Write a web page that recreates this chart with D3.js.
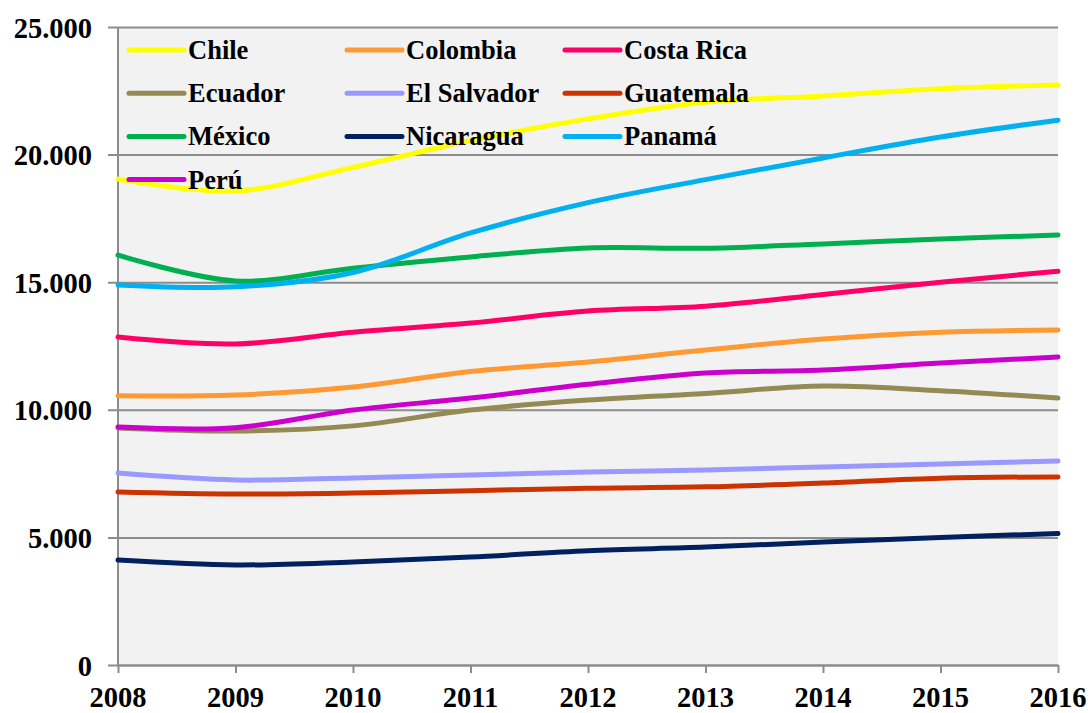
<!DOCTYPE html>
<html>
<head>
<meta charset="utf-8">
<script src="https://cdn.jsdelivr.net/npm/d3@7"></script>
<style>
  html, body { margin: 0; padding: 0; background: #ffffff; }
</style>
</head>
<body>
<svg id="chart" width="1091" height="713"></svg>
<script>
// Years on the horizontal axis
const years = [2008, 2009, 2010, 2011, 2012, 2013, 2014, 2015, 2016];

// Country names, in legend order
const countries = ["Chile", "Colombia", "Costa Rica", "Ecuador", "El Salvador",
                   "Guatemala", "México", "Nicaragua", "Panamá", "Perú"];

// Values per country, one per year
const chile      = [19040, 18570, 19500, 20550, 21400, 22050, 22300, 22580, 22730];
const colombia   = [10550, 10580, 10890, 11500, 11870, 12340, 12770, 13040, 13130];
const costaRica  = [12850, 12580, 13040, 13400, 13870, 14060, 14520, 15000, 15430];
const ecuador    = [9290, 9170, 9370, 9990, 10380, 10640, 10930, 10750, 10460];
const elSalvador = [7520, 7250, 7330, 7450, 7560, 7640, 7760, 7880, 7990];
const guatemala  = [6780, 6700, 6740, 6830, 6930, 6980, 7130, 7320, 7370];
const mexico     = [16060, 15050, 15550, 15990, 16340, 16330, 16500, 16690, 16850];
const nicaragua  = [4110, 3920, 4040, 4230, 4480, 4620, 4820, 5000, 5150];
const panama     = [14890, 14820, 15380, 16930, 18120, 19020, 19870, 20690, 21350];
const peru       = [9330, 9300, 9990, 10460, 11000, 11440, 11560, 11830, 12070];

const seriesValues = [chile, colombia, costaRica, ecuador, elSalvador,
                      guatemala, mexico, nicaragua, panama, peru];

const colors = ["#FFFF00", "#FF9933", "#FF0066", "#948A54", "#9999FF",
                "#CC3300", "#00B050", "#002060", "#00B0F0", "#CC00CC"];

// Y axis tick values and their labels (Spanish thousands separator)
const yTicks = [0, 5000, 10000, 15000, 20000, 25000];
const yTickLabels = ["0", "5.000", "10.000", "15.000", "20.000", "25.000"];

const svg = d3.select("#chart")
  .attr("font-family", "'Liberation Serif', 'DejaVu Serif', 'Times New Roman', Times, serif")
  .attr("font-weight", "bold");
const plot = { left: 118, right: 1058, top: 27, bottom: 665 };

const x = d3.scaleLinear().domain([2008, 2016]).range([plot.left, plot.right]);
const y = d3.scaleLinear().domain([0, 25000]).range([plot.bottom, plot.top]);

const gridColor = "#8c8c8c";

// Plot background
svg.append("rect")
  .attr("x", plot.left).attr("y", plot.top)
  .attr("width", plot.right - plot.left).attr("height", plot.bottom - plot.top)
  .attr("fill", "#f2f2f2");

// Horizontal gridlines with left tick marks
const yAxis = d3.axisLeft(y)
  .tickValues(yTicks)
  .tickSize(-(plot.right - plot.left))
  .tickSizeOuter(0)
  .tickFormat("");
const gy = svg.append("g").attr("transform", `translate(${plot.left},0)`).call(yAxis);
gy.select(".domain").remove();
gy.selectAll(".tick line").attr("stroke", gridColor).attr("stroke-width", 2)
  .attr("x1", -10);

// Y tick labels
svg.append("g").selectAll("text")
  .data(yTicks)
  .join("text")
  .attr("x", 92)
  .attr("y", d => y(d) + 10.5)
  .attr("text-anchor", "end")
  .attr("font-size", 28.5)
  .attr("fill", "#000")
  .text((d, i) => yTickLabels[i]);

// X axis with downward ticks
const xAxis = d3.axisBottom(x)
  .tickValues(years)
  .tickSize(8)
  .tickSizeOuter(0)
  .tickFormat("");
const gx = svg.append("g").attr("transform", `translate(0,${plot.bottom})`).call(xAxis);
gx.select(".domain").attr("stroke", gridColor).attr("stroke-width", 2);
gx.selectAll(".tick line").attr("stroke", gridColor).attr("stroke-width", 2);

svg.append("g").selectAll("text")
  .data(years)
  .join("text")
  .attr("x", d => x(d))
  .attr("y", 707)
  .attr("text-anchor", "middle")
  .attr("font-size", 28.5)
  .attr("fill", "#000")
  .text(d => d);

// Vertical axis line
svg.append("line")
  .attr("x1", plot.left).attr("x2", plot.left)
  .attr("y1", plot.top).attr("y2", plot.bottom + 1)
  .attr("stroke", gridColor).attr("stroke-width", 2);

// Series lines
const line = d3.line()
  .x((d, i) => x(years[i]))
  .y(d => y(d))
  .curve(d3.curveCatmullRom.alpha(0.5));

svg.append("g").selectAll("path")
  .data(seriesValues)
  .join("path")
  .attr("d", line)
  .attr("fill", "none")
  .attr("stroke", (d, i) => colors[i])
  .attr("stroke-width", 5)
  .attr("stroke-linecap", "round")
  .attr("stroke-linejoin", "round");

// Legend: three columns, four rows
const legendCols = [129, 347, 565];
const legendRow0 = 50, legendRowStep = 43.2;
const legend = svg.append("g").selectAll("g")
  .data(countries)
  .join("g")
  .attr("transform", (d, i) =>
    `translate(${legendCols[i % 3]},${legendRow0 + Math.floor(i / 3) * legendRowStep})`);

legend.append("line")
  .attr("x1", 0).attr("x2", 55)
  .attr("y1", 0).attr("y2", 0)
  .attr("stroke", (d, i) => colors[i])
  .attr("stroke-width", 5)
  .attr("stroke-linecap", "round");

legend.append("text")
  .attr("x", 59)
  .attr("y", 9)
  .attr("font-size", 26.5)
  .attr("fill", "#000")
  .text(d => d);
</script>
</body>
</html>
